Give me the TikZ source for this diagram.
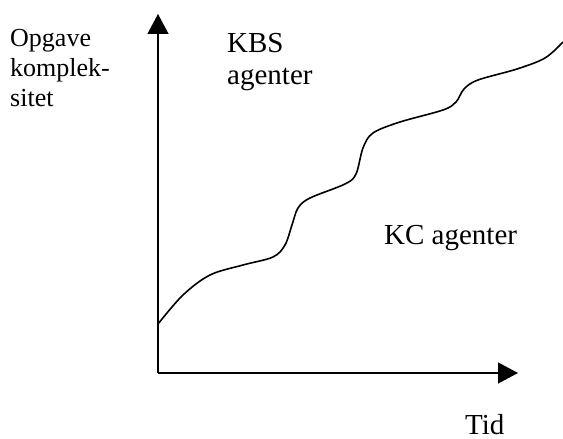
\documentclass[tikz,border=0pt]{standalone}
\usepackage{fontspec}
\setmainfont{Liberation Serif}
\usepackage{tikz}
\usetikzlibrary{arrows.meta}

\begin{document}
\begin{tikzpicture}[x=10pt, y=10pt,
    axis/.style={line width=1.4pt, -{Triangle[length=20pt, width=21pt]}},
    big/.style={font=\fontsize{29}{32}\selectfont, inner sep=0pt, align=left},
    small/.style={font=\fontsize{26}{30}\selectfont, inner sep=0pt, align=left}]
\useasboundingbox (-15.8,-6.6) rectangle (40.5,37.3);

% Axes
\coordinate (origo) at (0,0);
\coordinate (ytop) at (0,35.9);
\coordinate (xend) at (36,0);
\draw[axis] (origo) -- (ytop);
\draw[axis] (origo) -- (xend);

% Labels (base = last line)
\node[small, anchor=base west] (ylabel) at (-14.8,26.6) {Opgave\\komplek-\\sitet};
\node[big, anchor=base west] (kbs) at (6.9,28.8) {KBS\\agenter};
\node[big, anchor=base west] (kc) at (22.6,12.8) {KC agenter};
\node[big, anchor=base west] (xlabel) at (30.7,-6.2) {Tid};

% Curve
\draw[line width=1.6pt] plot[smooth, tension=0.55] coordinates {
    (0,4.9) (2.5,7.8) (5.2,9.8) (8.5,10.8) (11.5,11.6) (12.7,12.8)
    (13.4,14.8) (14.0,16.5) (15.2,17.5) (18.7,18.9) (19.8,19.9)
    (20.5,22.5) (21.5,24.0) (24.2,25.1) (28.5,26.3) (29.8,27.1)
    (30.6,28.4) (32.0,29.3) (35.9,30.4) (38.7,31.5) (40.5,33.1)};
\end{tikzpicture}
\end{document}
